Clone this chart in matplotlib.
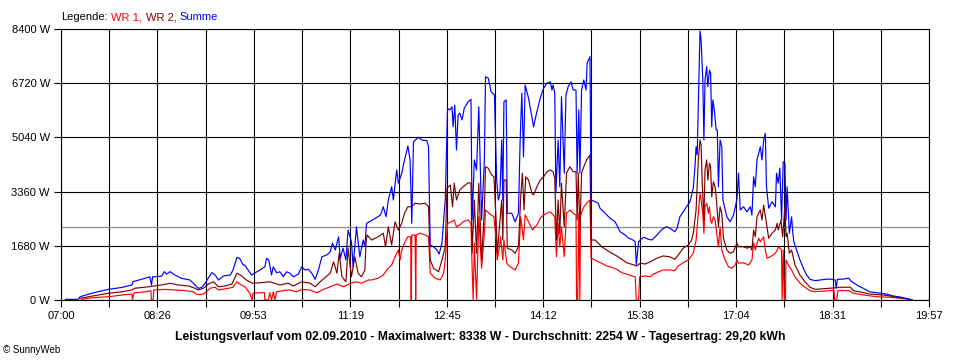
import numpy as np
from matplotlib import pyplot as plt

t_sum = [424, 435.5, 437, 444.5, 453.5, 462.5, 474.5, 483.5, 484.5, 492,
         499.5, 501, 502, 504, 510, 512.5, 514.5, 517.5, 522, 528,
         535.5, 540, 543, 546, 549, 555, 558, 561, 565.5, 571.5,
         574, 577.5, 580, 583, 584.5, 590.5, 598, 602.5, 604, 606,
         608.5, 610, 613, 616, 619, 622, 625, 628, 632.5, 635.5,
         638.5, 641.5, 644.5, 647.5, 650.5, 653.5, 658, 661, 663, 665.5,
         668.5, 670, 672.5, 675, 677, 680, 681.5, 684.5, 687.5, 690.5,
         692, 693.5, 701.5, 706, 708.5, 711, 713, 716, 717.5, 720.5,
         722, 725, 727.5, 730.5, 732.5, 734, 735.5, 740, 743, 747.5,
         749, 750.5, 753.5, 756.5, 758.5, 761, 763, 764, 766, 768,
         770, 771, 772.5, 774, 775.5, 777, 779, 781, 784.5, 787,
         788, 790, 792, 794, 796.5, 799, 800, 802.5, 805, 808,
         810, 811.5, 813, 814.5, 815.5, 816.5, 818.5, 819.5, 823.5, 826.5,
         829.5, 831, 832.5, 834, 835.5, 838.5, 841.5, 843, 846, 849,
         852, 855, 858, 859.5, 860.5, 862, 863, 865, 866.5, 868,
         870.5, 872, 874, 876.5, 878.5, 881, 882, 883.5, 884.5, 886,
         888, 890, 891, 893.5, 894.5, 898, 901, 902.5, 907, 911.5,
         916, 920.5, 925, 928, 931, 934, 935, 937, 938.5, 941.5,
         946, 949, 953.5, 958, 962, 965, 969.5, 971.5, 974, 977,
         980, 983, 986, 987.5, 988.5, 989.5, 990.5, 992, 993, 994.5,
         995.5, 996.5, 998, 999, 1000.5, 1001.5, 1002.5, 1003.5, 1004.5, 1006.5,
         1007.5, 1008.5, 1010, 1011.5, 1012.5, 1016, 1019, 1022, 1025, 1026.5,
         1028, 1031, 1034, 1037, 1038.5, 1040, 1041.5, 1043, 1046, 1047.5,
         1049, 1050.5, 1051.5, 1053.5, 1056.5, 1059.5, 1060.5, 1062, 1063.5, 1065,
         1066.5, 1068, 1069, 1070, 1072, 1074, 1075, 1076, 1078.5, 1081.5,
         1084.5, 1087.5, 1090.5, 1095, 1099.5, 1104, 1108.5, 1113, 1114, 1115,
         1120.5, 1125, 1128, 1132.5, 1138, 1144, 1150, 1159, 1165, 1172.5,
         1180, 1182]
sum_w = [20, 20, 100, 180, 260, 330, 390, 465, 570, 640,
         720, 465, 720, 720, 740, 880, 800, 880, 775, 670,
         620, 465, 360, 390, 520, 850, 775, 620, 745, 775,
         930, 1320, 1290, 1085, 1085, 775, 930, 1030, 1290, 1240,
         775, 1030, 845, 875, 720, 875, 830, 720, 805, 1030,
         930, 950, 830, 640, 930, 1340, 1395, 1495, 1760, 1550,
         1960, 1290, 1605, 1240, 2170, 1805, 1030, 2270, 1340, 1860,
         1650, 2375, 2535, 2635, 2890, 2580, 3100, 3510, 3100, 4030,
         3620, 3930, 4340, 4775, 4340, 2375, 4905, 5045, 4960, 4940,
         4750, 1705, 1650, 1550, 1425, 1760, 2690, 3100, 5945, 5890,
         5990, 5370, 6045, 4650, 5735, 5790, 5580, 5945, 6145, 6220,
         2480, 4340, 4030, 5990, 2480, 4340, 6920, 6875, 6455, 6355,
         3720, 3100, 3310, 4960, 3100, 6145, 6200, 2690, 2690, 2425,
         2690, 4960, 6410, 4440, 6665, 6255, 5680, 5370, 5835, 6255,
         6565, 6720, 6765, 6510, 6665, 6410, 3310, 4960, 3510, 6300,
         3930, 6355, 6610, 6765, 6510, 6510, 3930, 5890, 3930, 6510,
         6820, 6510, 7340, 7545, 3100, 3045, 3000, 2845, 2690, 2535,
         2425, 2115, 2015, 1915, 1880, 1805, 1085, 1800, 1860, 1945,
         1880, 1860, 2015, 2190, 2270, 2225, 2115, 2225, 2580, 2735,
         2890, 3045, 3465, 4130, 4750, 4500, 5990, 8338, 8060, 6820,
         4960, 6820, 7235, 6610, 7130, 7030, 5370, 6200, 5990, 5270,
         5270, 3510, 4960, 4750, 3100, 2580, 2425, 2635, 3100, 3930,
         2790, 2890, 2735, 2890, 2635, 3820, 3510, 4340, 4750, 4340,
         4960, 5170, 3510, 2845, 3045, 2890, 3930, 3620, 4085, 2480,
         4285, 4240, 2480, 3510, 2070, 2580, 2115, 1805, 1550, 1240,
         985, 775, 640, 600, 620, 640, 650, 620, 365, 640,
         650, 675, 565, 465, 365, 255, 225, 185, 125, 85,
         20, 0]

t_wr1 = [438.5, 444.5, 453.5, 462.5, 474.5, 483.5, 484, 485, 486, 495,
         500.5, 501, 502.5, 503, 513, 522, 531, 538.5, 541.5, 547,
         549, 553.5, 558, 561, 570, 574, 577.5, 580, 585, 589,
         591, 592, 598, 602, 602.5, 605.5, 607, 608.5, 610, 611.5,
         613, 619, 625, 631, 635.5, 643, 649, 655, 661, 667,
         673, 679, 684.5, 689, 695, 698, 704, 708.5, 711.5, 716,
         719, 722, 723.5, 725, 728, 730.5, 733, 733.5, 734, 737,
         737.5, 738, 741.5, 746, 749, 750.5, 755, 759.5, 762.5, 764,
         766, 769.5, 772, 774, 777, 780, 784.5, 787, 788, 789,
         790, 792, 794, 796.5, 799, 800, 803, 807.5, 809.5, 810.5,
         812.5, 813.5, 815.5, 816.5, 819, 822, 826.5, 829.5, 831.5, 834,
         835.5, 838.5, 842, 846, 849, 852, 855, 858, 862, 863.5,
         865, 866.5, 868, 870.5, 872.5, 875.5, 878.5, 881, 881.5, 882.5,
         883.5, 884.5, 885, 888, 890.5, 893.5, 894.5, 898, 901, 904,
         908.5, 913, 917.5, 922, 926.5, 931, 934, 935, 937, 938,
         943, 947.5, 950.5, 955, 959, 965, 969.5, 972.5, 977, 981.5,
         986, 988.5, 990.5, 992, 993, 994.5, 995.5, 996.5, 998, 999.5,
         1000.5, 1001.5, 1002.5, 1004, 1005.5, 1007, 1008.5, 1010, 1011.5, 1014.5,
         1017.5, 1020.5, 1023.5, 1025, 1026.5, 1031, 1035.5, 1038.5, 1040, 1041.5,
         1044.5, 1046, 1049, 1050.5, 1052, 1055, 1059.5, 1062.5, 1065, 1065.5,
         1066.5, 1067.5, 1068.5, 1069, 1072, 1074, 1077, 1081.5, 1086, 1090.5,
         1095, 1108.5, 1112, 1112.5, 1114.5, 1115.5, 1125, 1129.5, 1138.5, 1150.5,
         1162, 1174, 1180, 1182]
wr1_w = [20, 55, 85, 100, 155, 185, 0, 185, 225, 250,
         290, 0, 0, 310, 330, 310, 290, 255, 175, 175,
         225, 365, 395, 310, 365, 395, 565, 495, 395, 210,
         0, 215, 225, 230, 0, 0, 225, 0, 250, 0,
         255, 290, 310, 255, 330, 310, 225, 330, 410, 495,
         410, 520, 565, 520, 620, 620, 675, 775, 930, 1085,
         1340, 1550, 1240, 1550, 1805, 1960, 1960, 0, 2015, 2015,
         0, 2015, 2070, 2015, 1960, 830, 675, 620, 830, 1240,
         2375, 2425, 2480, 2270, 2325, 2425, 2480, 2375, 1030, 0,
         1765, 0, 2580, 985, 2070, 2790, 2690, 2580, 1860, 1240,
         1650, 1960, 1240, 1860, 1140, 1030, 930, 1140, 2580, 1860,
         2635, 2425, 2170, 2325, 2535, 2635, 2690, 2735, 2580, 1340,
         2375, 1650, 2270, 1340, 2690, 2790, 2690, 2635, 0, 0,
         2695, 0, 2605, 2890, 3000, 3100, 1295, 1240, 1185, 1140,
         1055, 1015, 950, 845, 805, 745, 720, 0, 0, 720,
         745, 720, 805, 875, 930, 930, 910, 1055, 1155, 1240,
         1450, 1860, 2690, 3310, 3100, 2690, 2070, 2890, 3000, 2690,
         2890, 2480, 2375, 2580, 2480, 2070, 1650, 2270, 1550, 1240,
         1030, 985, 1085, 1240, 1140, 1155, 1085, 1240, 1760, 1550,
         1915, 1805, 1960, 1550, 1295, 1340, 1450, 1650, 1550, 0,
         1550, 0, 0, 1240, 1030, 930, 720, 520, 395, 290,
         255, 290, 290, 0, 0, 290, 290, 210, 155, 100,
         85, 40, 20, 0]

t_wr2 = [437, 444.5, 453.5, 462.5, 474.5, 483.5, 486, 495, 504, 510,
         517.5, 525, 534, 540, 543, 547.5, 552, 556.5, 561, 567,
         573, 577.5, 582, 585, 591, 598, 607, 616, 623.5, 628,
         635.5, 643, 647.5, 652, 661, 664, 667, 669, 671.5, 675,
         677, 680, 683, 686, 689, 692, 693, 694, 698, 704,
         708.5, 710.5, 713, 716, 719, 722, 725, 727.5, 730.5, 734,
         737, 741.5, 746, 749, 750.5, 753.5, 758, 761, 764, 765.5,
         768.5, 770.5, 772, 774, 777, 780, 784.5, 787, 788, 790,
         792, 794, 796.5, 799, 800, 802.5, 805.5, 807.5, 809.5, 810.5,
         812.5, 814.5, 815.5, 816.5, 818.5, 819.5, 823.5, 826.5, 829.5, 831.5,
         833, 834.5, 836, 838.5, 841.5, 843, 846, 849, 852, 855,
         858, 860.5, 862, 863.5, 865, 866.5, 868, 870.5, 872.5, 875.5,
         878.5, 881, 882, 883, 884.5, 886, 888, 890.5, 893.5, 894.5,
         898, 901, 904, 908.5, 913, 917.5, 922, 926.5, 931, 935.5,
         938.5, 943, 947.5, 953.5, 959, 965, 969.5, 972.5, 977, 981.5,
         984.5, 986, 988.5, 990.5, 992, 993, 994, 995.5, 996.5, 998,
         999, 1000.5, 1001.5, 1002.5, 1004, 1005.5, 1006.5, 1008.5, 1010, 1011.5,
         1013, 1016, 1019, 1022, 1025, 1026.5, 1031, 1034, 1037, 1038.5,
         1040, 1041.5, 1043, 1046, 1047.5, 1049, 1051.5, 1053.5, 1056.5, 1059.5,
         1061, 1062, 1064.5, 1066, 1068, 1069, 1070, 1072, 1074, 1077,
         1081.5, 1086, 1090.5, 1095, 1108.5, 1117.5, 1126.5, 1129.5, 1138.5, 1144,
         1156, 1162, 1168, 1177, 1180, 1182]
wr2_w = [50, 100, 155, 210, 255, 310, 365, 395, 435, 465,
         520, 465, 435, 365, 310, 365, 495, 565, 410, 435,
         495, 830, 745, 640, 520, 535, 565, 465, 520, 435,
         565, 520, 410, 565, 830, 1185, 830, 1450, 720, 565,
         1605, 720, 1340, 830, 720, 930, 1760, 2015, 1860, 1960,
         2070, 1650, 2270, 1705, 2425, 2170, 2375, 2690, 2890, 2890,
         3000, 2975, 3000, 2890, 1240, 985, 875, 1240, 1650, 3465,
         3565, 2890, 3620, 3100, 3410, 3510, 3635, 3620, 1450, 3100,
         1450, 3620, 1240, 2790, 4130, 4085, 3875, 3820, 2480, 1450,
         2270, 3100, 1860, 3720, 3720, 1605, 1550, 1450, 1650, 3200,
         3930, 2790, 3820, 3720, 3310, 3255, 3510, 3720, 3820, 3975,
         4030, 3975, 3770, 1860, 3100, 2070, 3620, 2270, 3930, 4130,
         3975, 3975, 2480, 3930, 2170, 3930, 4130, 4340, 4495, 1860,
         1860, 1760, 1650, 1550, 1450, 1365, 1260, 1155, 1105, 1055,
         1140, 1115, 1185, 1295, 1365, 1340, 1260, 1395, 1605, 1705,
         1860, 2070, 2790, 4340, 4960, 4805, 3620, 2480, 4030, 4340,
         3720, 4240, 4130, 3200, 3665, 3510, 3200, 2270, 2890, 2690,
         1915, 1550, 1450, 1495, 1760, 1650, 1650, 1605, 1650, 1550,
         2170, 1960, 2580, 2790, 2480, 2945, 2375, 1915, 2070, 2170,
         2375, 2170, 2480, 1960, 2890, 1960, 2070, 1450, 1550, 1085,
         775, 565, 395, 330, 365, 395, 395, 290, 225, 185,
         155, 125, 85, 40, 20, 0]

time_labels = ["07:00", "08:26", "09:53", "11:19", "12:45", "14:12",
               "15:38", "17:04", "18:31", "19:57"]
power_ticks = [0, 1680, 3360, 5040, 6720, 8400]
average_w = 2254
title = ("Leistungsverlauf vom 02.09.2010 - Maximalwert: 8338 W - "
         "Durchschnitt: 2254 W - Tagesertrag: 29,20 kWh")

plt.rcParams['font.family'] = ['Liberation Sans', 'DejaVu Sans']
plt.rcParams['font.size'] = 8

fig = plt.figure(figsize=(9.6, 3.6), dpi=100)
ax = fig.add_axes([61 / 960, 60 / 360, 868 / 960, 271 / 360])

# 18 grid intervals, every second one labelled
t_start, t_end = 7 * 60, 19 * 60 + 57
grid_x = np.linspace(t_start, t_end, 2 * len(time_labels) - 1)
labels = []
for i in range(len(grid_x)):
    labels.append(time_labels[i // 2] if i % 2 == 0 else "")

ax.set_xlim(t_start, t_end)
ax.set_ylim(0, power_ticks[-1])
ax.set_xticks(grid_x)
ax.set_xticklabels(labels)
ax.set_yticks(power_ticks)
ax.set_yticklabels([f"{v} W" for v in power_ticks])
ax.tick_params(length=5, width=0.8, color="black", pad=3)
ax.grid(True, color="black", lw=0.8)
ax.set_axisbelow(True)
for s in ax.spines.values():
    s.set_color("black")
    s.set_linewidth(0.8)

ax.axhline(average_w, color="#8c8c8c", lw=0.9, zorder=1.5)
ax.plot(t_wr1, wr1_w, color="#ff0000", lw=0.85)
ax.plot(t_wr2, wr2_w, color="#800000", lw=0.85)
ax.plot(t_sum, sum_w, color="#0000ff", lw=0.85)

fig.text(0.5, 1 - 337 / 360, title, ha="center", va="center",
         fontweight="bold", fontsize=8.8)
fig.text(3 / 960, 1 - 350 / 360, "\u00a9 SunnyWeb", ha="left", va="center", fontsize=7)

# coloured legend line at the top
renderer = fig.canvas.get_renderer()
x = 61 / 960
for txt, col in [("Legende:", "black"), ("WR 1,", "#ff0000"),
                 ("WR 2,", "#800000"), ("Summe", "#0000ff")]:
    t = fig.text(x, 1 - 17 / 360, txt, color=col, ha="left", va="center")
    x += (t.get_window_extent(renderer).width + 3.5) / 960

fig.savefig("out.png", dpi=100, facecolor="white")
